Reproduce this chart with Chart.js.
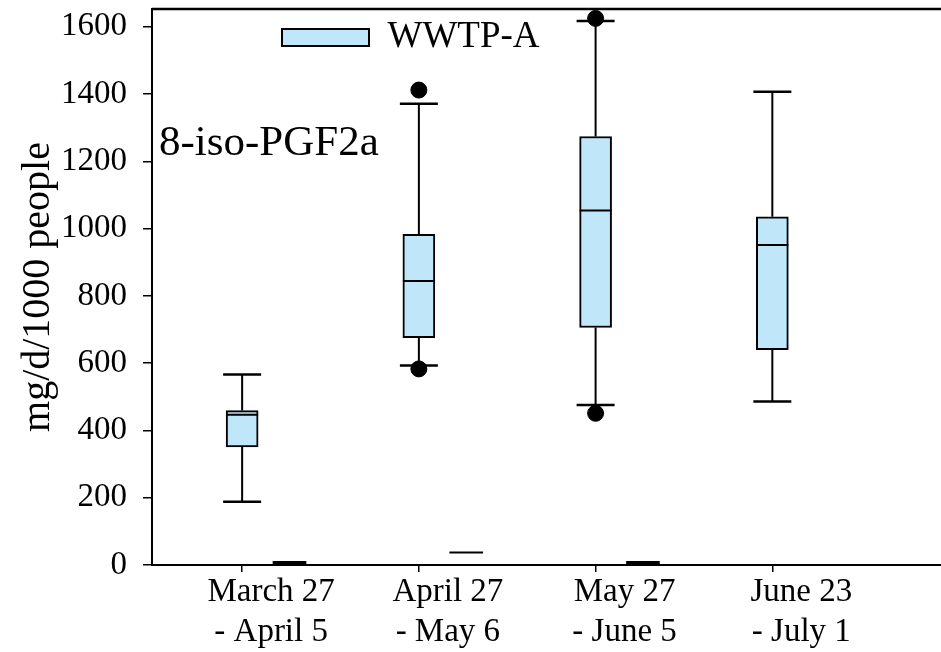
<!DOCTYPE html>
<html>
<head>
<meta charset="utf-8">
<title>8-iso-PGF2a - WWTP-A</title>
<script src="https://cdn.jsdelivr.net/npm/chart.js@4.4.0/dist/chart.umd.min.js"></script>
<style>
  html, body { margin: 0; padding: 0; background: #fff; overflow: hidden; }
  /* a little wider than the window: the frame runs off the right edge */
  #wrap { position: relative; width: 951px; height: 652px; }
</style>
</head>
<body>
<div id="wrap"><canvas id="boxChart"></canvas></div>
<script>
// values, mg/d/1000 people
const categories = [
  ["March 27", "- April 5"],
  ["April 27", "- May 6"],
  ["May 27", "- June 5"],
  ["June 23", "- July 1"],
];
const lowWhisker = [188, 593, 476, 486];
const q1 = [351, 676, 706, 640];
const median = [447, 844, 1054, 951];
const q3 = [459, 983, 1274, 1035];
const highWhisker = [566, 1371, 1617, 1407];
const outliers = [[], [583, 1412], [451, 1625], []];

// the small dashes sitting on the x axis right of each box
const markLow = [2, 35, 3, null];
const markHigh = [11, 39, 11, null];

const yTicks = [0, 200, 400, 600, 800, 1000, 1200, 1400, 1600];

/* ---------- STYLE ---------- */

const SERIF = "'Liberation Serif', 'Times New Roman', serif";
const BOX_BLUE = "#bfe6f9";
const CAP_HALF = 19;
const MARK_SHIFT = 0.268; // dash offset from the category, in axis units

/* ---------- DATASETS ---------- */

function buildBoxes() {
  return categories.map((_, i) => ({ x: i + 1, y: [q1[i], q3[i]] }));
}

function buildMarks() {
  const pts = [];
  categories.forEach((_, i) => {
    if (markLow[i] == null) return;
    pts.push({ x: i + 1 + MARK_SHIFT, y: [markLow[i], markHigh[i]] });
  });
  return pts;
}

function buildOutliers() {
  const pts = [];
  outliers.forEach((vals, i) => vals.forEach((v) => pts.push({ x: i + 1, y: v })));
  return pts;
}

/* ---------- PLUGINS ---------- */

// whiskers + caps under the boxes, medians + frame + label on top
const boxParts = {
  id: "boxParts",
  beforeDatasetsDraw(chart) {
    const { ctx, scales } = chart;
    const x = scales.x, y = scales.y;
    ctx.save();
    ctx.strokeStyle = "#000";
    categories.forEach((_, i) => {
      const cx = x.getPixelForValue(i + 1);
      ctx.lineWidth = 2;
      ctx.beginPath();
      ctx.moveTo(cx, y.getPixelForValue(lowWhisker[i]));
      ctx.lineTo(cx, y.getPixelForValue(q1[i]));
      ctx.moveTo(cx, y.getPixelForValue(q3[i]));
      ctx.lineTo(cx, y.getPixelForValue(highWhisker[i]));
      ctx.stroke();

      ctx.lineWidth = 2.5;
      [lowWhisker[i], highWhisker[i]].forEach((v) => {
        const py = y.getPixelForValue(v);
        ctx.beginPath();
        ctx.moveTo(cx - CAP_HALF, py);
        ctx.lineTo(cx + CAP_HALF, py);
        ctx.stroke();
      });
    });
    ctx.restore();
  },
  afterDatasetsDraw(chart) {
    const { ctx, scales, chartArea } = chart;
    const x = scales.x, y = scales.y;
    const half = 16;
    ctx.save();
    ctx.strokeStyle = "#000";
    ctx.lineWidth = 2;
    categories.forEach((_, i) => {
      const cx = x.getPixelForValue(i + 1);
      const py = y.getPixelForValue(median[i]);
      ctx.beginPath();
      ctx.moveTo(cx - half, py);
      ctx.lineTo(cx + half, py);
      ctx.stroke();
    });

    // top frame line
    ctx.lineWidth = 2.5;
    ctx.beginPath();
    ctx.moveTo(chartArea.left, chartArea.top);
    ctx.lineTo(chartArea.right, chartArea.top);
    ctx.stroke();

    // compound label
    ctx.fillStyle = "#000";
    ctx.font = "43px " + SERIF;
    ctx.textBaseline = "alphabetic";
    ctx.textAlign = "left";
    ctx.fillText("8-iso-PGF2a", chartArea.left + 7, chartArea.top + 146);
    ctx.restore();
  },
};

// move the in-area legend over to where the figure has it
const legendSpot = {
  id: "legendSpot",
  afterLayout(chart) {
    const lg = chart.legend;
    if (!lg) return;
    lg.left += 120;
    lg.right += 120;
    lg.top += 9;
    lg.bottom += 9;
  },
};

// no extra room for edge labels, the frame fills the canvas
function noEdgePadding(s) {
  s.paddingLeft = 0;
  s.paddingRight = 0;
  s.paddingTop = 0;
  s.paddingBottom = 0;
}

/* ---------- CHART ---------- */

function initChart() {
  const canvas = document.getElementById("boxChart");
  const ctx = canvas.getContext("2d");

  new Chart(ctx, {
    type: "bar",
    data: {
      datasets: [
        {
          label: "WWTP-A",
          data: buildBoxes(),
          backgroundColor: BOX_BLUE,
          borderColor: "#000",
          borderWidth: 2,
          borderSkipped: false,
          barThickness: 32,
          grouped: false,
        },
        {
          label: "marks",
          data: buildMarks(),
          backgroundColor: "#000",
          borderWidth: 0,
          barThickness: 33,
          grouped: false,
        },
        {
          type: "scatter",
          label: "outliers",
          data: buildOutliers(),
          backgroundColor: "#000",
          borderColor: "#000",
          pointRadius: 8,
          pointHoverRadius: 8,
        },
      ],
    },
    options: {
      responsive: true,
      maintainAspectRatio: false,
      animation: false,
      layout: { padding: { top: 7, right: 0, bottom: 0, left: 0 } },
      plugins: {
        tooltip: { enabled: false },
        legend: {
          position: "chartArea",
          align: "start",
          labels: {
            filter: (item) => item.datasetIndex === 0,
            boxWidth: 87,
            boxHeight: 17,
            color: "#000",
            font: { family: SERIF, size: 37 },
          },
        },
      },
      scales: {
        x: {
          type: "linear",
          offset: false,
          min: 0.49,
          max: 4.96,
          afterBuildTicks: (s) => {
            s.ticks = categories.map((_, i) => ({ value: i + 1 }));
          },
          afterFit: (s) => {
            s.height = 87;
            noEdgePadding(s);
          },
          ticks: {
            callback: (v, i) => categories[i],
            color: "#000",
            font: { family: SERIF, size: 33, lineHeight: 1.22 },
            labelOffset: 29,
            padding: 0,
            maxRotation: 0,
            autoSkip: false,
          },
          grid: { drawOnChartArea: false, offset: false, tickLength: 7, color: "#000", lineWidth: 1.5 },
          border: { color: "#000", width: 2 },
        },
        y: {
          min: 0,
          max: 1653,
          afterBuildTicks: (s) => {
            s.ticks = yTicks.map((v) => ({ value: v }));
          },
          afterFit: (s) => {
            s.width = 152;
            noEdgePadding(s);
          },
          ticks: {
            callback: (v) => String(v),
            color: "#000",
            font: { family: SERIF, size: 33 },
            padding: 16,
          },
          grid: { drawOnChartArea: false, tickLength: 9, color: "#000", lineWidth: 1.5 },
          border: { color: "#000", width: 2 },
          title: {
            display: true,
            text: "mg/d/1000 people",
            color: "#000",
            font: { family: SERIF, size: 40 },
            padding: { top: 14, bottom: 0 },
          },
        },
      },
    },
    plugins: [boxParts, legendSpot],
  });
}

initChart();
</script>
</body>
</html>
